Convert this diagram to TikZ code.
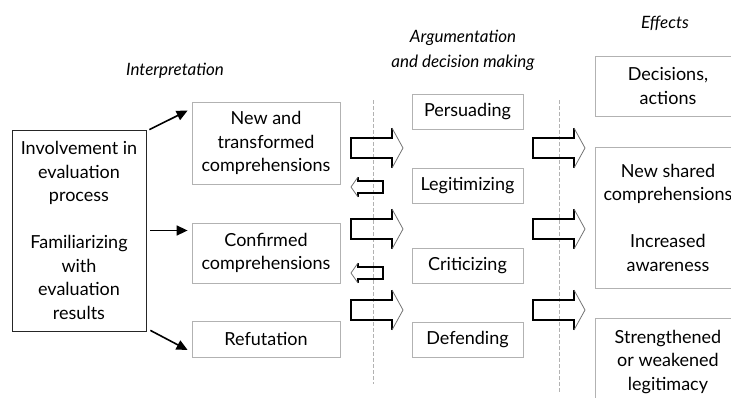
\documentclass[tikz,border=0pt]{standalone}
\usepackage{fontspec}
\setmainfont{Lato}
\usetikzlibrary{arrows.meta,positioning,calc}

\tikzset{
    bigarrow/.pic={
        \draw[line width=1.3pt] (41,-20) -- (41,-10) -- (0,-10) -- (0,10) -- (41,10) -- (41,20);
        \draw[black!55, line width=0.8pt] (41,-20) -- (52,0) -- (41,20);
    },
    smallarrow/.pic={
        \draw[line width=1.3pt] (7,-10) -- (7,-6) -- (32,-6) -- (32,6) -- (7,6) -- (7,10);
        \draw[black!55, line width=0.8pt] (7,-10) -- (0,0) -- (7,10);
    }
}

\begin{document}
\begin{tikzpicture}[
    x=1pt, y=-1pt,
    box/.style={draw=gray!60, line width=0.8pt, align=center, inner sep=0pt,
        font=\fontsize{18}{23.5}\selectfont},
    heading/.style={align=center, font=\fontsize{17}{25}\selectfont\itshape},
    pointer/.style={-{Triangle[length=11pt,width=10pt]}, line width=1.6pt},
    divider/.style={gray!60, line width=0.6pt, dash pattern=on 4pt off 2pt}
]
    \useasboundingbox (0,0) rectangle (731,397);
    \clip (0,0) rectangle (731,397);

    % Headings
    \node[heading] (h_interp) at (175,71) {Interpretation};
    \node[heading] (h_argue) at (463,50.5) {Argumentation\\and decision making};
    \node[heading] (h_effects) at (665,23) {Effects};

    % Source
    \node[box, draw=black!85, minimum width=134, minimum height=201] (inv) at (79,230.5)
        {Involvement in\\evaluation\\process\\[23.5pt]Familiarizing\\with\\evaluation\\results};

    % Interpretation
    \node[box, minimum width=148, minimum height=82] (newc) at (266,143)
        {New and\\transformed\\comprehensions};
    \node[box, minimum width=148, minimum height=60] (conf) at (266,253)
        {Confirmed\\comprehensions};
    \node[box, minimum width=148, minimum height=36] (refu) at (266,339) {Refutation};

    % Argumentation
    \node[box, minimum width=111, minimum height=35] (pers) at (467.5,111.5) {Persuading};
    \node[box, minimum width=111, minimum height=35] (legi) at (467.5,185.5) {Legitimizing};
    \node[box, minimum width=111, minimum height=35] (crit) at (467.5,265.5) {Criticizing};
    \node[box, minimum width=111, minimum height=35] (defe) at (467.5,339.5) {Defending};

    % Effects
    \node[box, minimum width=146, minimum height=60] (deci) at (668,86) {Decisions,\\actions};
    \node[box, minimum width=146, minimum height=141] (shar) at (668,217.5)
        {New shared\\comprehensions\\[23.5pt]Increased\\awareness};
    \node[box, minimum width=146, minimum height=88] (stre) at (668,362)
        {Strengthened\\or weakened\\legitimacy};

    % Dividers
    \coordinate (d1top) at (373,100);
    \coordinate (d1bot) at (373,384);
    \coordinate (d2top) at (559,100);
    \coordinate (d2bot) at (559,392);
    \draw[divider] (d1top) -- (d1bot);
    \draw[divider] (d2top) -- (d2bot);

    % Pointers
    \draw[pointer] ($(inv.north east)+(3,0)$) -- ($(newc.north west)+(-4,9)$);
    \draw[pointer] ($(inv.east)+(4,0)$) -- ($(inv.east -| conf.west)+(-4,0)$);
    \draw[pointer] ($(inv.south east)+(4,-1)$) -- ($(refu.west)+(-4,11)$);

    % Block arrows
    \foreach \y in {148,229,310} {
        \pic at (351,\y) {bigarrow};
        \pic at (533,\y) {bigarrow};
    }
    \foreach \y in {187,273} {
        \pic at (351,\y) {smallarrow};
    }
\end{tikzpicture}
\end{document}
